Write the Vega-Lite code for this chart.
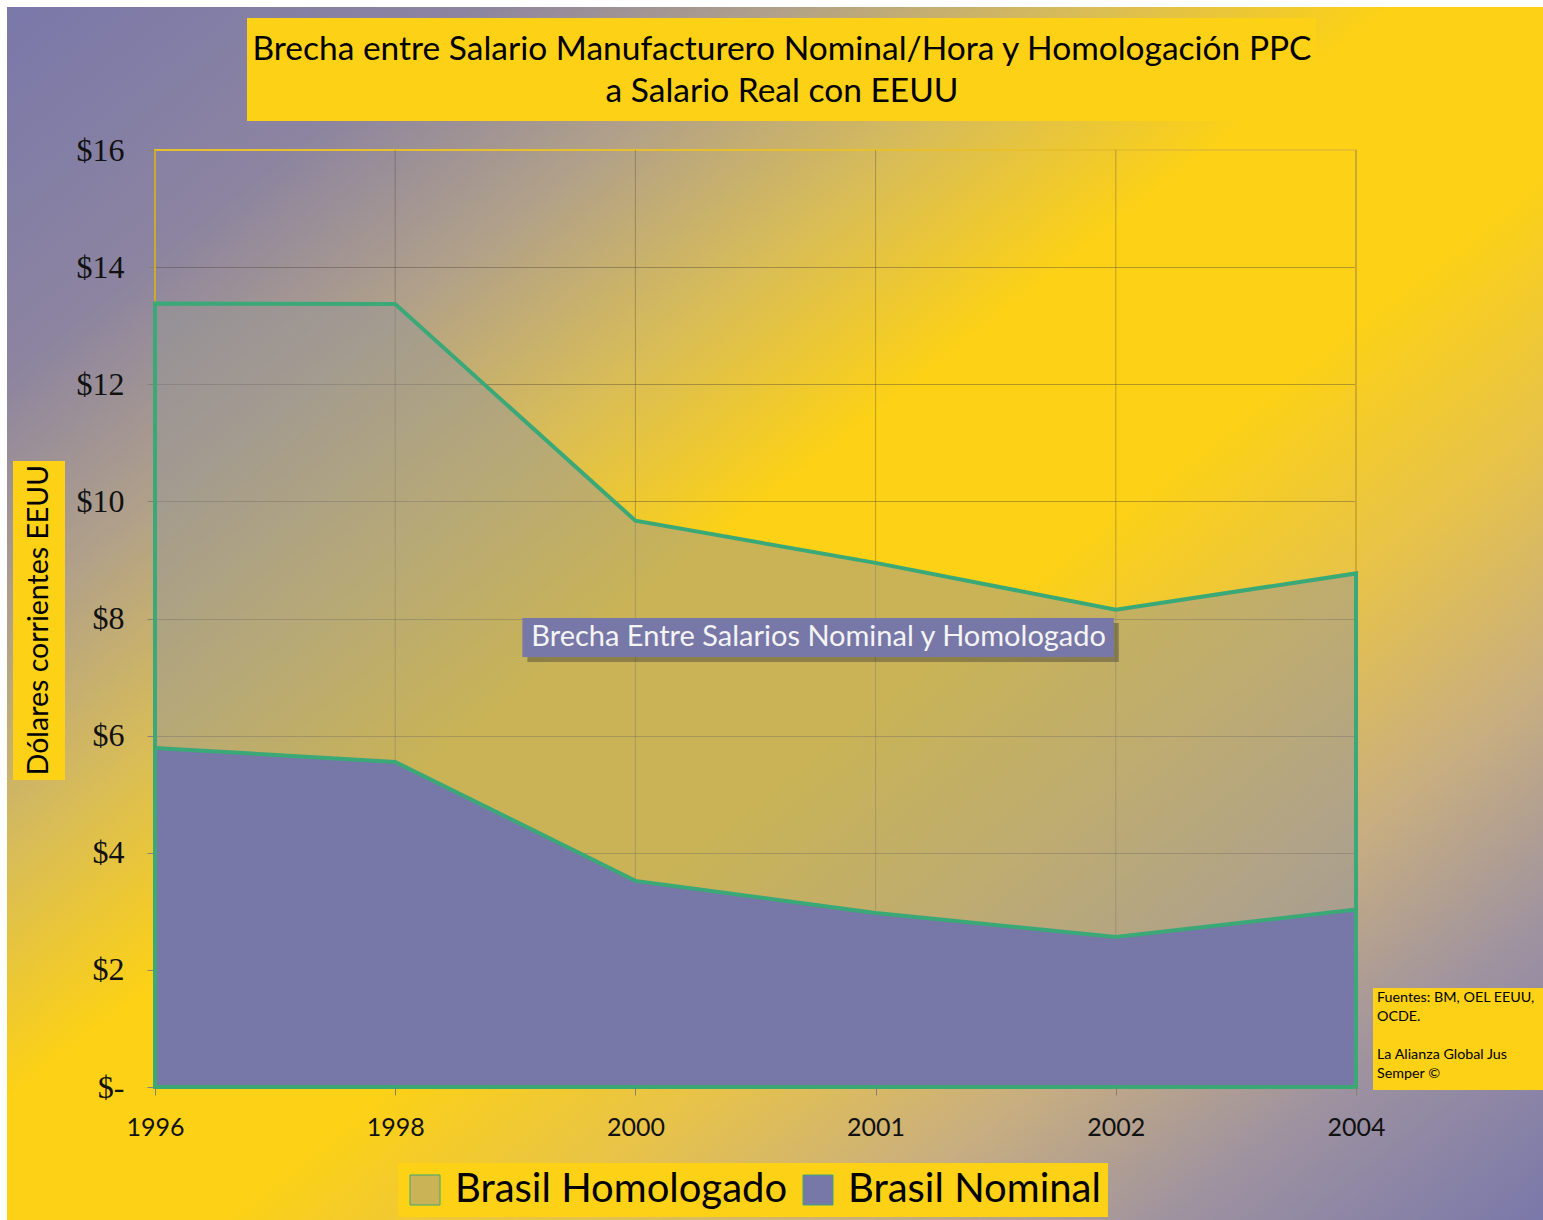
{
  "$schema": "https://vega.github.io/schema/vega-lite/v6.json",
  "width": 1536,
  "height": 1213,
  "autosize": "none",
  "padding": {"left": 7, "top": 7, "right": 0, "bottom": 0},
  "background": "#ffffff",
  "view": {
    "stroke": null,
    "fill": {
      "gradient": "linear",
      "x1": 0, "y1": 0, "x2": 1, "y2": 1,
      "stops": [
        {"offset": 0, "color": "#7a78aa"},
        {"offset": 0.15, "color": "#8c84a0"},
        {"offset": 0.25, "color": "#b0a08a"},
        {"offset": 0.35, "color": "#d8bc58"},
        {"offset": 0.45, "color": "#fcd116"},
        {"offset": 0.57, "color": "#fcd116"},
        {"offset": 0.68, "color": "#e6c24c"},
        {"offset": 0.78, "color": "#c8ae80"},
        {"offset": 0.88, "color": "#9e92a0"},
        {"offset": 1, "color": "#7a78aa"}
      ]
    }
  },
  "title": {
    "text": ["Brecha entre Salario Manufacturero Nominal/Hora y Homologación PPC", "a Salario Real con EEUU"],
    "anchor": "middle",
    "frame": "group",
    "font": "Lato",
    "fontSize": 33.5,
    "fontWeight": "normal",
    "color": "#000000",
    "lineHeight": 42,
    "baseline": "bottom",
    "offset": -135,
    "dx": 7
  },
  "data": {
    "values": [
      {"year": "1996", "homologado": 13.38, "nominal": 5.79},
      {"year": "1998", "homologado": 13.37, "nominal": 5.55},
      {"year": "2000", "homologado": 9.67, "nominal": 3.52},
      {"year": "2001", "homologado": 8.95, "nominal": 2.97},
      {"year": "2002", "homologado": 8.15, "nominal": 2.56},
      {"year": "2004", "homologado": 8.77, "nominal": 3.03}
    ]
  },
  "layer": [
    {
      "data": {"values": [{}]},
      "mark": {"type": "rect", "fill": "#fcd116", "xOffset": 92, "x2Offset": -40},
      "encoding": {
        "x": {"datum": "1996", "type": "ordinal"},
        "x2": {"datum": "2004"},
        "y": {"datum": 18.254, "type": "quantitative"},
        "y2": {"datum": 16.495}
      }
    },
    {
      "data": {"values": [{}]},
      "mark": {"type": "rect", "fill": "#fcd116", "xOffset": -142, "x2Offset": -90},
      "encoding": {
        "x": {"datum": "1996", "type": "ordinal"},
        "x2": {"datum": "1996"},
        "y": {"datum": 10.69, "type": "quantitative"},
        "y2": {"datum": 5.242}
      }
    },
    {
      "data": {"values": [{}]},
      "mark": {"type": "rect", "fill": "#fcd116", "xOffset": 17, "x2Offset": 187},
      "encoding": {
        "x": {"datum": "2004", "type": "ordinal"},
        "x2": {"datum": "2004"},
        "y": {"datum": 1.69, "type": "quantitative"},
        "y2": {"datum": -0.05}
      }
    },
    {
      "data": {"values": [{}]},
      "mark": {"type": "rect", "fill": null, "stroke": "#e8c02c", "strokeWidth": 2},
      "encoding": {
        "x": {"datum": "1996", "type": "ordinal"},
        "x2": {"datum": "2004"},
        "y": {"datum": 0, "type": "quantitative"},
        "y2": {"datum": 16}
      }
    },
    {
      "mark": {"type": "rule", "stroke": "#4a4038", "strokeOpacity": 0.35, "strokeWidth": 1},
      "encoding": {
        "x": {"field": "year", "type": "ordinal"},
        "y": {"datum": 0, "type": "quantitative"},
        "y2": {"datum": 16}
      }
    },
    {
      "mark": {"type": "area", "stroke": "#3aa877", "strokeWidth": 4},
      "encoding": {
        "x": {
          "field": "year",
          "type": "ordinal",
          "scale": {"type": "point", "domain": ["1996", "1998", "2000", "2001", "2002", "2004"], "range": [148, 1349], "padding": 0},
          "axis": {
            "orient": "bottom",
            "offset": -133,
            "title": null,
            "grid": false,
            "domain": false,
            "tickSize": 8,
            "tickColor": "#8a8070",
            "labelFont": "Lato",
            "labelFontSize": 25,
            "labelColor": "#111111",
            "labelPadding": 20,
            "labelAngle": 0,
            "labelAlign": "center",
            "labelBaseline": "top"
          }
        },
        "y": {
          "field": "homologado",
          "type": "quantitative",
          "scale": {"domain": [0, 16], "range": [1080, 143], "nice": false, "zero": true},
          "axis": {
            "orient": "left",
            "offset": -148,
            "values": [0, 2, 4, 6, 8, 10, 12, 14, 16],
            "labelExpr": "datum.value == 0 ? '$-' : '$' + datum.value",
            "title": null,
            "grid": true,
            "gridColor": "#4a4038",
            "gridOpacity": 0.4,
            "domain": false,
            "tickSize": 8,
            "tickColor": "#8a8070",
            "labelFont": "Liberation Serif",
            "labelFontSize": 32,
            "labelColor": "#111111",
            "labelPadding": 23,
            "labelAlign": "right",
            "labelBaseline": "middle"
          }
        },
        "fill": {
          "datum": "Brasil Homologado",
          "type": "nominal",
          "scale": {"domain": ["Brasil Homologado", "Brasil Nominal"], "range": ["rgba(150,150,150,0.5)", "#7878a8"]},
          "legend": {
            "title": null,
            "orient": "none",
            "legendX": 391,
            "legendY": 1156,
            "direction": "horizontal",
            "fillColor": "#fcd116",
            "padding": 7,
            "columnPadding": 10,
            "labelOffset": 10,
            "labelFont": "Lato",
            "labelFontSize": 40,
            "labelColor": "#000000",
            "labelLimit": 600,
            "symbolType": "square",
            "symbolSize": 900,
            "symbolStrokeColor": "#c2b450",
            "symbolStrokeWidth": 1
          }
        }
      }
    },
    {
      "mark": {"type": "area", "stroke": "#3aa877", "strokeWidth": 4},
      "encoding": {
        "x": {"field": "year", "type": "ordinal"},
        "y": {"field": "nominal", "type": "quantitative"},
        "fill": {"datum": "Brasil Nominal", "type": "nominal"}
      }
    },
    {
      "data": {"values": [{}]},
      "mark": {"type": "rect", "fill": "#333333", "opacity": 0.4, "xOffset": -108, "x2Offset": 3, "yOffset": 5, "y2Offset": 5},
      "encoding": {
        "x": {"datum": "2000", "type": "ordinal"},
        "x2": {"datum": "2002"},
        "y": {"datum": 8.009, "type": "quantitative"},
        "y2": {"datum": 7.343}
      }
    },
    {
      "data": {"values": [{}]},
      "mark": {"type": "rect", "fill": "#7878a8", "xOffset": -113, "x2Offset": -2},
      "encoding": {
        "x": {"datum": "2000", "type": "ordinal"},
        "x2": {"datum": "2002"},
        "y": {"datum": 8.009, "type": "quantitative"},
        "y2": {"datum": 7.343}
      }
    },
    {
      "data": {"values": [{}]},
      "mark": {"type": "text", "text": "Brecha Entre Salarios Nominal y Homologado", "font": "Lato", "fontSize": 29, "color": "#f4f4f4", "align": "center", "baseline": "middle", "xOffset": -57},
      "encoding": {
        "x": {"datum": "2001", "type": "ordinal"},
        "y": {"datum": 7.68, "type": "quantitative"}
      }
    },
    {
      "data": {"values": [{}]},
      "mark": {"type": "text", "text": "Dólares corrientes EEUU", "font": "Lato", "fontSize": 28.5, "color": "#000000", "align": "center", "baseline": "middle", "angle": 270, "xOffset": -116},
      "encoding": {
        "x": {"datum": "1996", "type": "ordinal"},
        "y": {"datum": 7.974, "type": "quantitative"}
      }
    },
    {
      "data": {"values": [{}]},
      "mark": {"type": "text", "text": ["Fuentes: BM, OEL EEUU,", "OCDE."], "font": "Lato", "fontSize": 14.3, "lineHeight": 19, "color": "#000000", "align": "left", "baseline": "top", "xOffset": 21, "yOffset": 3},
      "encoding": {
        "x": {"datum": "2004", "type": "ordinal"},
        "y": {"datum": 1.69, "type": "quantitative"}
      }
    },
    {
      "data": {"values": [{}]},
      "mark": {"type": "text", "text": ["La Alianza Global Jus", "Semper ©"], "font": "Lato", "fontSize": 14.3, "lineHeight": 19, "color": "#000000", "align": "left", "baseline": "top", "xOffset": 21, "yOffset": 60},
      "encoding": {
        "x": {"datum": "2004", "type": "ordinal"},
        "y": {"datum": 1.69, "type": "quantitative"}
      }
    }
  ]
}
